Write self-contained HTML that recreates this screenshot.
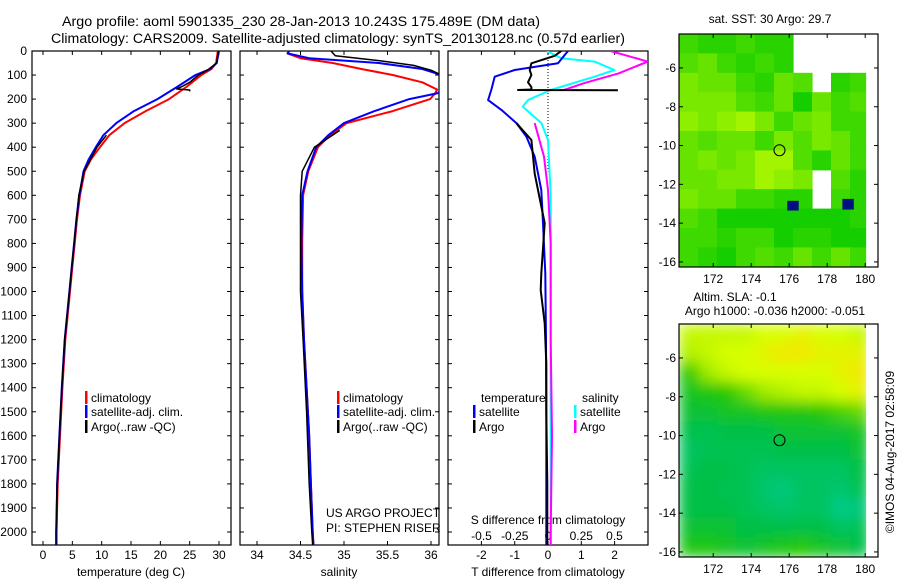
<!DOCTYPE html>
<html><head><meta charset="utf-8">
<style>
html,body{margin:0;padding:0;background:#fff;}
svg{display:block;font-family:"Liberation Sans",Arial,sans-serif;}
</style></head>
<body>
<svg id="chart" width="900" height="580" viewBox="0 0 900 580" xmlns="http://www.w3.org/2000/svg">
<defs><filter id="smooth" x="0" y="0" width="1" height="1"><feGaussianBlur stdDeviation="7" edgeMode="duplicate"/></filter></defs>
<text x="301" y="26" font-size="13.5" text-anchor="middle" textLength="478" lengthAdjust="spacingAndGlyphs">Argo profile: aoml 5901335_230 28-Jan-2013 10.243S 175.489E (DM data)</text>
<text x="338" y="43" font-size="13.5" text-anchor="middle" textLength="574" lengthAdjust="spacingAndGlyphs">Climatology: CARS2009. Satellite-adjusted climatology: synTS_20130128.nc (0.57d earlier)</text>
<g id="g"></g>
</svg>
<script>
// ---------- data ----------
const depthTicks=[0,100,200,300,400,500,600,700,800,900,1000,1100,1200,1300,1400,1500,1600,1700,1800,1900,2000];
const tempTicks=[0,5,10,15,20,25,30];
const salTicks=[34,34.5,35,35.5,36];
const tdiffTicks=[-2,-1,0,1,2];
const sdiffTicks=[-0.5,-0.25,0,0.25,0.5];

const climDepth=[0,50,75,100,150,200,250,300,350,400,450,500,600,700,800,900,1000,1200,1400,1600,1800,2000,2056];
const climTemp=[29.8,29.5,28.7,27,24.4,21.5,17.5,13.9,11.3,9.7,8.2,7.1,6.3,5.8,5.4,5.0,4.6,3.8,3.3,2.9,2.5,2.3,2.3];
const satTemp=[30,29.6,28.5,26,22.8,19.5,15.5,12.5,10.3,9.0,7.8,6.9,6.2,5.7,5.3,4.9,4.5,3.7,3.2,2.8,2.4,2.3,2.3];
const argoTDepth=[0,50,80,100,130,150,155,158,162,168,null,350,400,500,600,700,800,1000,1200,1400,1600,1800,2000,2056];
const argoTemp=[29.9,29.6,28,26.5,25,23.5,23,22.8,25,25,null,10.8,9.2,7.0,6.1,5.7,5.3,4.5,3.7,3.2,2.8,2.4,2.2,2.2];

const salDepth=[0,10,30,50,75,100,130,160,175,200,250,300,350,400,500,600,800,1000,1200,1400,1600,1800,2000,2056];
const climSal=[34.37,34.35,34.5,34.87,35.2,35.56,35.9,36.07,36.05,35.99,35.56,35.03,34.84,34.7,34.59,34.53,34.52,34.52,34.54,34.57,34.6,34.62,34.64,34.65];
const satSal=[34.37,34.35,34.6,35.4,35.9,36.12,36.15,36.12,36.08,35.75,35.35,35.0,34.82,34.68,34.58,34.52,34.51,34.52,34.54,34.57,34.6,34.62,34.64,34.65];
const argoSDepth=[0,20,40,60,80,100,null,330,400,500,600,800,1000,1200,1500,1800,2000,2056];
const argoSal=[34.85,34.9,35.4,35.8,36.0,36.12,null,34.95,34.66,34.52,34.5,34.5,34.5,34.53,34.57,34.6,34.63,34.64];

const dTDepth=[0,51,79,107,160,204,245,300,356,439,578,716,925,1200,1500,2000,2056];
const satTdiff=[0.6,0.3,-1.0,-1.6,-1.7,-1.8,-1.4,-0.95,-0.65,-0.4,-0.2,-0.15,-0.08,-0.06,-0.05,-0.05,-0.05];
const argoTdDepth=[0,20,51,79,100,130,150,160,162,163,null,300,370,510,578,716,925,994,1133,1300,1500,1800,2000,2056];
const argoTdiff=[0.4,0.2,-0.5,-0.55,-0.5,-0.6,-0.5,-0.5,-0.9,2.1,null,-0.95,-0.5,-0.4,-0.3,-0.1,-0.2,-0.22,-0.1,-0.05,-0.05,-0.02,-0.02,-0.02];
const dSDepth=[0,30,44,79,107,162,204,231,300,370,600,1000,1500,2000,2056];
const satSdiff=[-0.01,0.1,0.35,0.5,0.35,0.02,-0.15,-0.19,-0.05,0,0.02,0.02,0.02,0.02,0.02];
const argoSdDepth=[0,44,93,134,162,null,300,439,578,800,1200,1600,2000,2056];
const argoSdiff=[0.47,0.75,0.53,0.27,0.12,null,-0.1,-0.03,0,0.02,0.02,0.03,0.02,0.02];

const sstGrid=[
[.3,.2,.2,.3,.2,.2,null,null,null,null],
[.4,.5,.3,.2,.3,.2,null,null,null,null],
[.6,.5,.5,.3,.2,.5,.4,null,.2,.3],
[.6,.6,.6,.4,.3,.5,.1,.5,.3,.4],
[.7,.6,.7,.8,.6,.3,.5,.6,.3,.3],
[.5,.4,.5,.5,.3,.6,.4,.6,.5,.3],
[.5,.6,.5,.6,.8,.8,.4,.2,.5,.3],
[.5,.5,.6,.6,.8,.7,.6,null,.4,.2],
[.6,.5,.5,.3,.3,.2,.2,null,.3,.2],
[.4,.3,.1,.1,.1,.1,.1,.1,.1,.2],
[.3,.3,.2,.3,.3,.1,.2,.2,.1,.1],
[.3,.2,.1,.3,.4,.3,.5,.3,.5,.3]];
const slaGrid=[
[.8,.8,.8,.8,.85,.85,.9,.85,.85,.8],
[.75,.8,.85,.85,.9,.95,.95,.9,.9,.9],
[.5,.7,.8,.85,.85,.85,.85,.85,.9,.95],
[.4,.45,.5,.6,.7,.75,.8,.8,.85,.9],
[.35,.35,.4,.4,.45,.45,.45,.5,.55,.6],
[.3,.25,.3,.3,.3,.35,.35,.35,.35,.4],
[.2,.25,.25,.25,.25,.3,.3,.3,.3,.35],
[.25,.3,.3,.25,.2,.2,.2,.2,.2,.3],
[.3,.3,.25,.25,.15,.1,.2,.2,.15,.25],
[.3,.3,.3,.25,.2,.15,.2,.2,.05,.1],
[.35,.35,.35,.3,.3,.3,.3,.3,.2,.25],
[.45,.45,.4,.35,.4,.45,.5,.4,.35,.3]];
const lonTicks=[172,174,176,178,180];
const latTicks=[-6,-8,-10,-12,-14,-16];
const argoLon=175.489, argoLat=-10.243;

// ---------- drawing ----------
const NS='http://www.w3.org/2000/svg';
const G=document.getElementById('g');
function el(t,a,p){const e=document.createElementNS(NS,t);for(const k in a)e.setAttribute(k,a[k]);(p||G).appendChild(e);return e;}
function txt(x,y,s,a,p){const e=el('text',Object.assign({x:x,y:y,'font-size':12},a||{}),p);e.textContent=s;return e;}

const yTop=51, pxPerM=0.2405, yBot=545;
const yD=d=>yTop+d*pxPerM;
const xT=t=>43+t*5.867;
const xS=s=>257+(s-34)*87;
const xTd=v=>548+v*33.3;
const xSd=v=>548+v*133;

function panel(x0,x1,name){
  const r=el('rect',{x:x0,y:yTop,width:x1-x0,height:yBot-yTop,fill:'none',stroke:'#000','stroke-width':1.2});
  
  
  depthTicks.forEach(d=>{
    el('line',{x1:x0,y1:yD(d),x2:x0+4,y2:yD(d),stroke:'#000'});
    el('line',{x1:x1,y1:yD(d),x2:x1-4,y2:yD(d),stroke:'#000'});
  });
}
const dl=el('g',{});


depthTicks.forEach(d=>txt(27,yD(d)+4,String(d),{'text-anchor':'end'},dl));

panel(32,231,'temperature-panel');
panel(240,439,'salinity-panel');
panel(448,648,'difference-panel');

function xticks(ticks,fx,labY,name){
  const g=el('g',{});
  
  
  ticks.forEach(t=>{
    const x=fx(t);
    el('line',{x1:x,y1:yTop,x2:x,y2:yTop+4,stroke:'#000'},g);
    el('line',{x1:x,y1:yBot,x2:x,y2:yBot-4,stroke:'#000'},g);
    txt(x,labY,String(t),{'text-anchor':'middle'},g);
  });
}
xticks(tempTicks,xT,559,'temperature-ticks');
xticks(salTicks,xS,559,'salinity-ticks');
xticks(tdiffTicks,xTd,559,'t-difference-ticks');
{const g=el('g',{});


sdiffTicks.forEach(t=>{txt(xSd(t),540,String(t),{'text-anchor':'middle'},g);});}
txt(131,576,'temperature (deg C)',{'text-anchor':'middle'});
txt(339,576,'salinity',{'text-anchor':'middle'});
txt(548,576,'T difference from climatology',{'text-anchor':'middle'});
txt(548,524,'S difference from climatology',{'text-anchor':'middle'});
el('line',{x1:xTd(0),y1:yTop,x2:xTd(0),y2:yD(500),stroke:'#000','stroke-dasharray':'1,2'});

function clip(id,x0,x1){const c=el('clipPath',{id:id});el('rect',{x:x0,y:yTop,width:x1-x0,height:yBot-yTop},c);}
clip('c1',32,231);clip('c2',240,439);clip('c3',448,648);
function line(depths,vals,fx,color,w,cp,name){
  let d='',pen=false;
  for(let i=0;i<depths.length;i++){
    if(depths[i]===null||vals[i]===null){pen=false;continue;}
    d+=(pen?'L':'M')+fx(vals[i]).toFixed(1)+','+yD(depths[i]).toFixed(1);pen=true;
  }
  const p=el('path',{d:d,fill:'none',stroke:color,'stroke-width':w,'clip-path':'url(#'+cp+')','stroke-linejoin':'round'});
  
  
}
line(climDepth,climTemp,xT,'#ff0000',2,'c1','temp-climatology-line');
line(climDepth,satTemp,xT,'#0000ff',2,'c1','temp-satellite-line');
line(argoTDepth,argoTemp,xT,'#000',1.5,'c1','temp-argo-line');
line(salDepth,climSal,xS,'#ff0000',2,'c2','sal-climatology-line');
line(salDepth,satSal,xS,'#0000ff',2,'c2','sal-satellite-line');
line(argoSDepth,argoSal,xS,'#000',1.5,'c2','sal-argo-line');
line(dSDepth,satSdiff,xSd,'#00ffff',2,'c3','s-diff-satellite-line');
line(argoSdDepth,argoSdiff,xSd,'#ff00ff',2,'c3','s-diff-argo-line');
line(dTDepth,satTdiff,xTd,'#0000ee',2,'c3','t-diff-satellite-line');
line(argoTdDepth,argoTdiff,xTd,'#000',2,'c3','t-diff-argo-line');

function legItem(x,y,color,label,name){
  const g=el('g',{});
  
  
  el('rect',{x:x,y:y-11,width:2.5,height:13,fill:color},g);
  txt(x+6,y,label,{},g);
}
legItem(85,402,'#ff0000','climatology','legend-climatology');
legItem(85,416,'#0000ff','satellite-adj. clim.','legend-satellite-adj');
legItem(85,431,'#000','Argo(..raw -QC)','legend-argo');
legItem(337,402,'#ff0000','climatology','legend2-climatology');
legItem(337,416,'#0000ff','satellite-adj. clim.','legend2-satellite-adj');
legItem(337,431,'#000','Argo(..raw -QC)','legend2-argo');
txt(481,402,'temperature');
txt(582,402,'salinity');
legItem(473,416,'#0000ff','satellite','legend3-t-satellite');
legItem(473,431,'#000','Argo','legend3-t-argo');
legItem(574,416,'#00ffff','satellite','legend3-s-satellite');
legItem(574,431,'#ff00ff','Argo','legend3-s-argo');
txt(326,517,'US ARGO PROJECT');
txt(326,532,'PI: STEPHEN RISER');

// ---------- maps ----------
function lerp(a,b,t){return a+(b-a)*t;}
function sstColor(v){return 'rgb('+Math.round(lerp(0,204,v))+','+Math.round(lerp(200,255,v))+',0)';}
const slaStops=[[0,[0,204,150]],[0.3,[0,192,70]],[0.5,[40,200,0]],[0.7,[160,235,0]],[0.85,[215,255,0]],[1,[255,220,0]]];
function slaColor(v){
  for(let i=1;i<slaStops.length;i++){if(v<=slaStops[i][0]){const a=slaStops[i-1],b=slaStops[i],t=(v-a[0])/(b[0]-a[0]);return 'rgb('+[0,1,2].map(k=>Math.round(lerp(a[1][k],b[1][k],t))).join(',')+')';}}
  return 'rgb(255,220,0)';
}
function drawMap(y0,grid,colorFn,name,smooth){
  const x0=679,x1=878,y1=y0+233;
  const lonMin=170.2,pxLon=19.0, latTop=-4.25, pxLat=19.4;
  const xL=l=>x0+(l-lonMin)*pxLon;
  const yL=l=>y0+(latTop-l)*pxLat;
  const g=el('g',{});
  
  
  const cid='m'+y0;const c=el('clipPath',{id:cid});el('rect',{x:x0,y:y0,width:xL(180.05)-x0,height:y1-y0},c);
  const outer=el('g',{'clip-path':'url(#'+cid+')'},g);
  const cellsG=el('g',smooth?{filter:'url(#smooth)'}:{},outer);
  grid.forEach((row,r)=>row.forEach((v,ci)=>{
    if(v===null)return;
    const cell=el('rect',{x:xL(lonMin+ci),y:yL(latTop-r),width:pxLon+0.6,height:pxLat+0.6,fill:colorFn(v)},cellsG);
    
    
  }));
  el('rect',{x:x0,y:y0,width:x1-x0,height:y1-y0,fill:'none',stroke:'#000','stroke-width':1.2},g);
  lonTicks.forEach(l=>{const x=xL(l);el('line',{x1:x,y1:y0,x2:x,y2:y0+4,stroke:'#000'},g);el('line',{x1:x,y1:y1,x2:x,y2:y1-4,stroke:'#000'},g);txt(x,y1+16,String(l),{'text-anchor':'middle'},g);});
  latTicks.forEach(l=>{const y=yL(l);el('line',{x1:x0,y1:y,x2:x0+4,y2:y,stroke:'#000'},g);el('line',{x1:x1,y1:y,x2:x1-4,y2:y,stroke:'#000'},g);txt(676,y+4,String(l),{'text-anchor':'end'},g);});
  const m=el('circle',{cx:xL(argoLon),cy:yL(argoLat),r:5.5,fill:'none',stroke:'#000','stroke-width':1},g);
  
  
  return {xL,yL};
}
const mt=drawMap(34,sstGrid,sstColor,'sst-map',false);
[[175.9,-12.85,0.6,0.5],[178.8,-12.75,0.6,0.55]].forEach(b=>{
  const r=el('rect',{x:mt.xL(b[0]),y:mt.yL(b[1]),width:b[2]*19,height:b[3]*19.4,fill:'#001080'});
  
  
});
drawMap(324,slaGrid,slaColor,'sla-map',true);
txt(770,23,'sat. SST: 30 Argo: 29.7',{'text-anchor':'middle'});
txt(735,301,'Altim. SLA: -0.1',{'text-anchor':'middle'});
txt(775,315,'Argo h1000: -0.036 h2000: -0.051',{'text-anchor':'middle'});
txt(0,0,'©IMOS 04-Aug-2017 02:58:09',{'text-anchor':'middle',transform:'translate(894,452) rotate(-90)'});
</script>
</body></html>
